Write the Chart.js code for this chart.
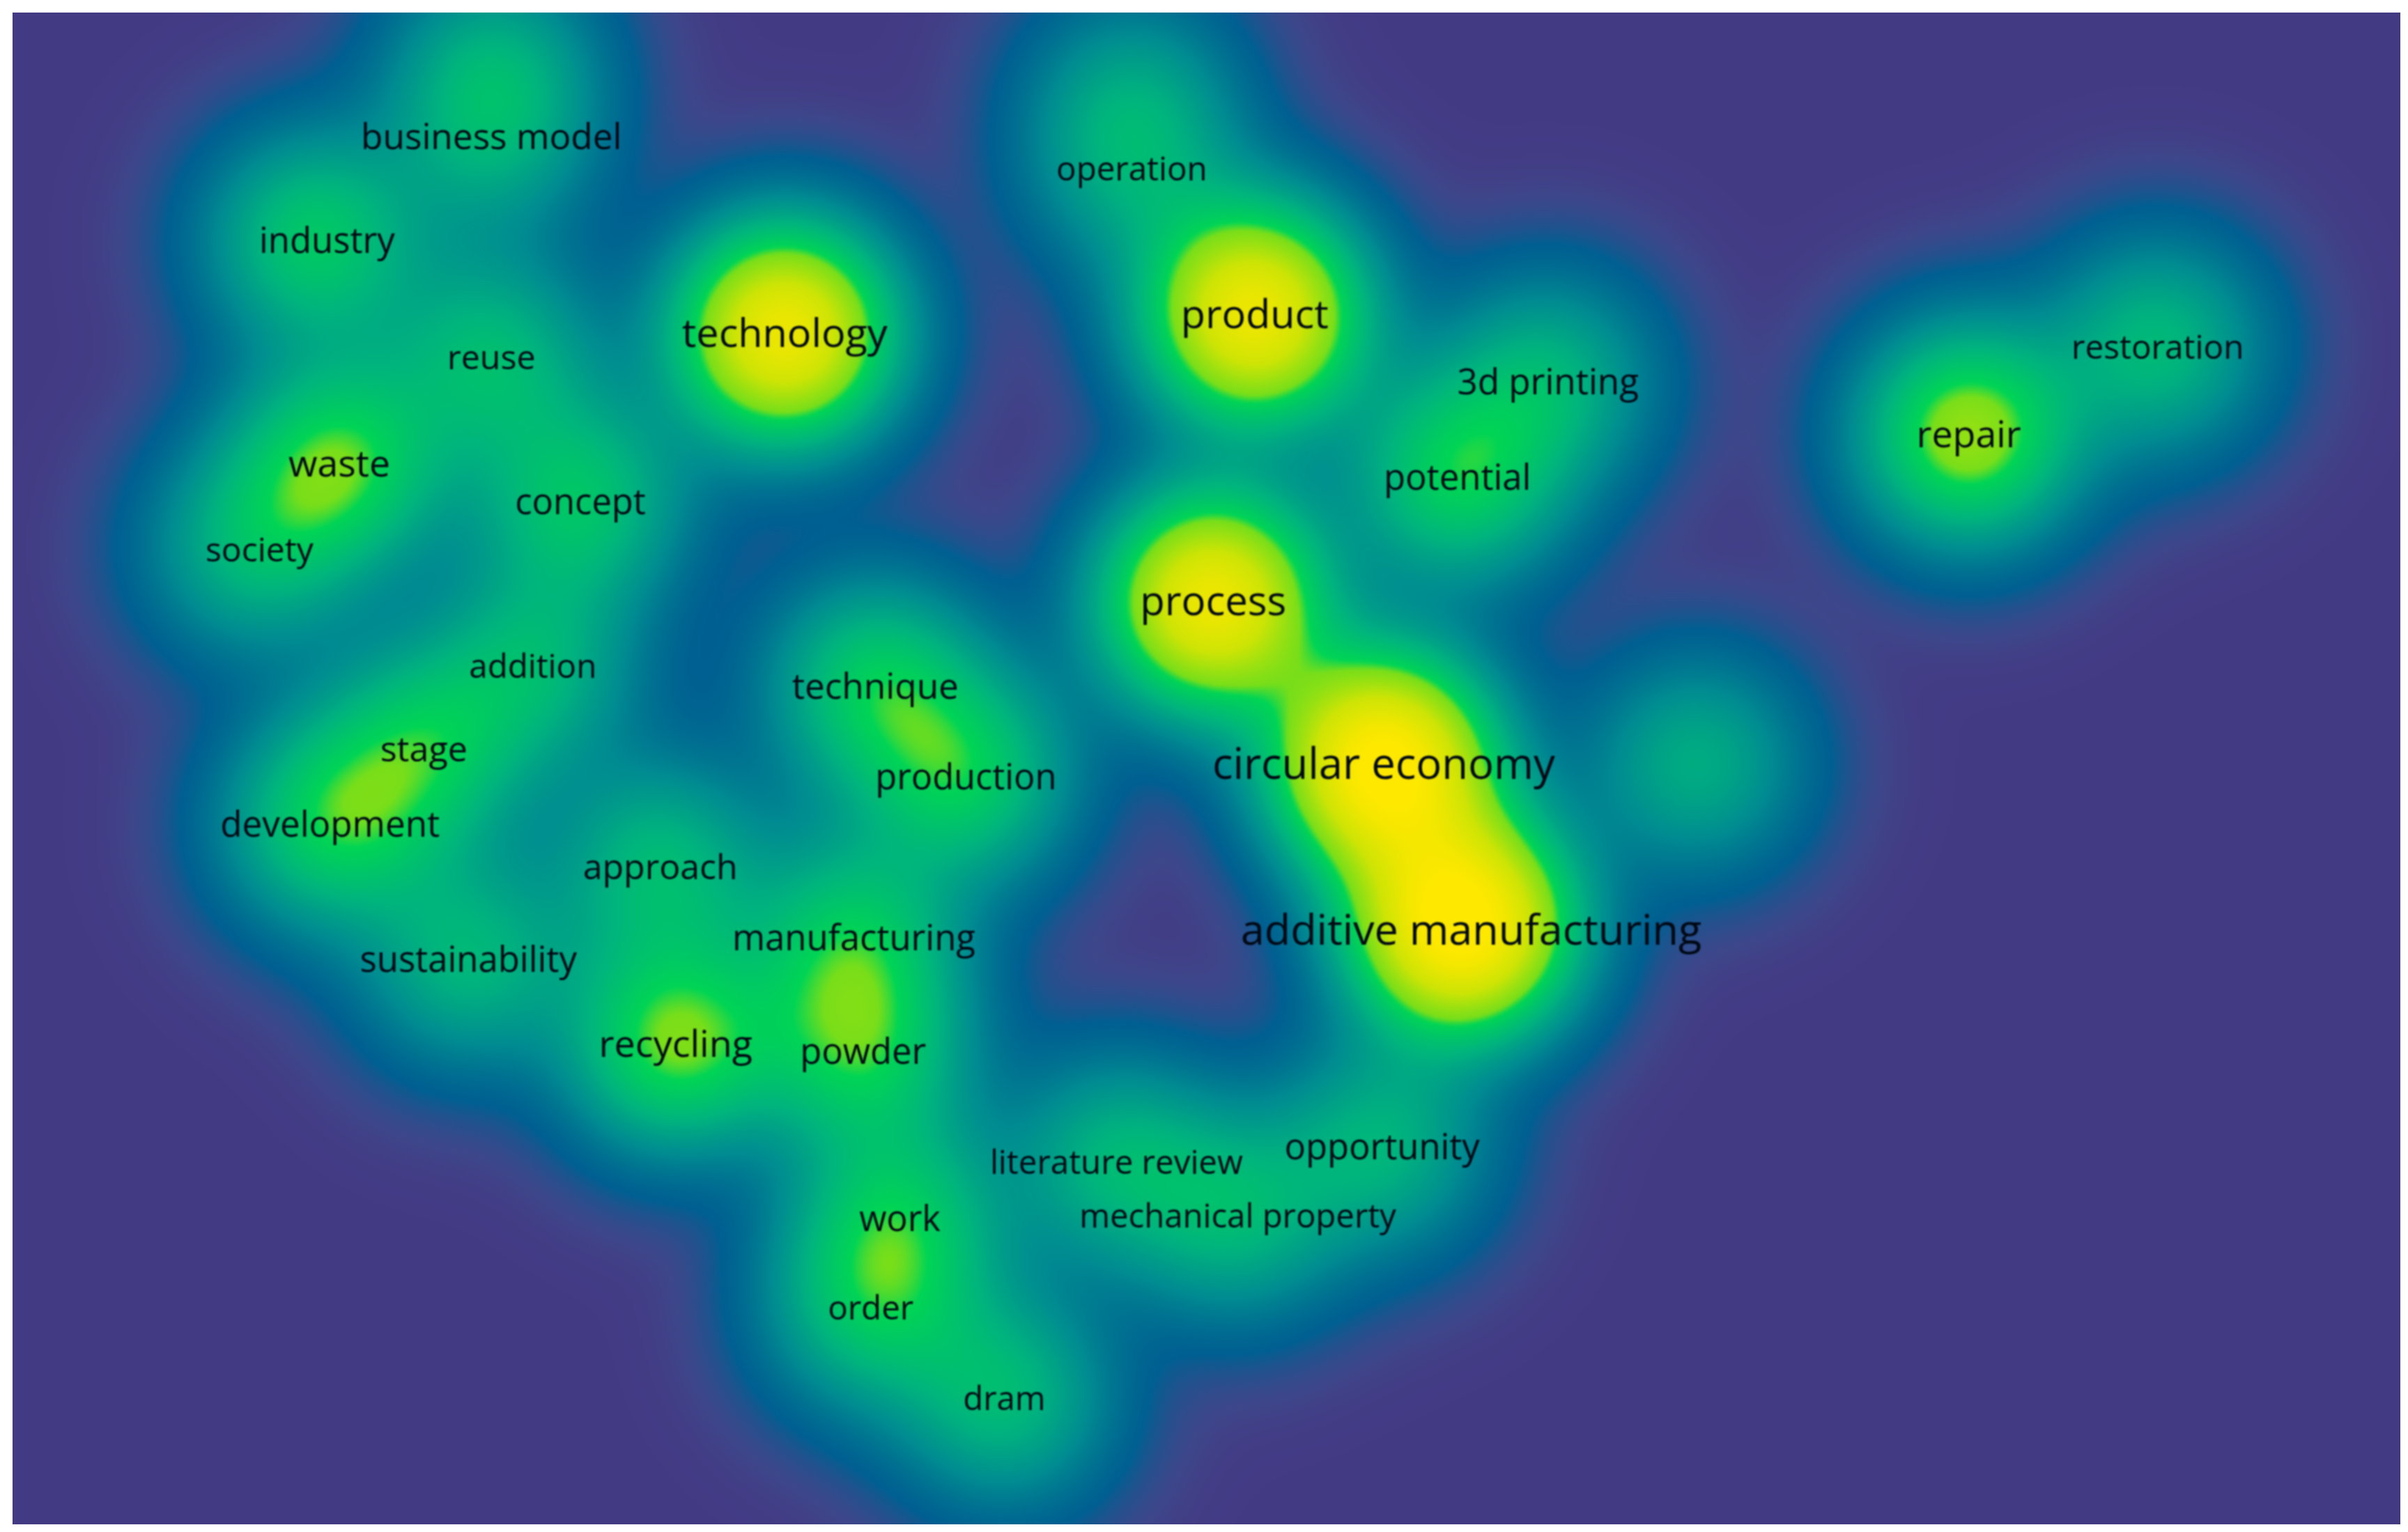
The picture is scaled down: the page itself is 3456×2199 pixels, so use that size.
<!DOCTYPE html>
<html>
<head>
<meta charset="utf-8">
<title>Keyword density map</title>
<script src="https://cdn.jsdelivr.net/npm/chart.js@4/dist/chart.umd.min.js"></script>
<style>
  html, body { margin: 0; padding: 0; background: #fff; }
  canvas { display: block; }
</style>
</head>
<body>
<canvas id="mapa" width="3456" height="2199"></canvas>
<script>
const d = document;

//Keywords (an empty name is a term whose label is hidden in the map)
const keywords = ["business model","industry","reuse","technology","operation","product","3d printing","potential","restoration","repair","waste","society","concept","process","addition","technique","stage","development","production","circular economy","additive manufacturing","approach","manufacturing","sustainability","recycling","powder","literature review","opportunity","mechanical property","work","order","dram","","",""];
const posX = [320,205,320,511,737,817,1008,949,1405,1282,221,165,378,790,347,570,276,215,629,901,952,430,556,305,440,562,727,900,806,586,567,654,322,1105,738];
const posY = [89,157,233,217,110,205,249,311,226,283,302,358,327,392,434,447,488,537,506,498,603,565,611,625,680,685,757,747,792,794,852,911,40,498,62];
const weights = [0.28,0.50,0.40,1.27,0.26,1.27,0.36,0.54,0.40,0.77,0.60,0.36,0.46,1.27,0.36,0.50,0.46,0.52,0.50,1.50,1.55,0.40,0.45,0.38,0.66,0.50,0.36,0.36,0.36,0.42,0.40,0.40,0.26,0.34,0.22];
const occurrences = [52,49,33,91,28,91,51,49,29,67,66,31,48,94,28,52,45,51,47,116,113,44,49,49,68,48,28,48,27,47,28,27,0,0,0];
const labelX = [320,213,320,511,737,817,1008,949,1405,1282,221,169,378,790,347,570,276,215,629,901,958,430,556,305,440,562,727,900,806,586,567,654,0,0,0];
const labelY = [89,157,233,217,110,205,249,311,226,283,302,358,327,392,434,447,488,537,506,498,606,565,611,625,680,685,757,747,792,794,852,911,0,0,0];

//Density colours, from low to high
const colorStops = [0,0.01,0.055,0.2,0.38,0.6,0.68,1.0,1.35,1.5];
const colorR = [67,62,0,0,0,0,120,205,245,255];
const colorG = [58,70,95,140,180,212,222,228,231,232];
const colorB = [132,138,145,145,125,85,25,5,0,0];

const BANDWIDTH = 46, CELL = 4;

const colorAt = (t) => {
  if (t >= 1.5) return [255, 232, 0];
  let i = 0;
  while (colorStops[i + 1] < t) i++;
  const f = (t - colorStops[i]) / (colorStops[i + 1] - colorStops[i]);
  return [
    colorR[i] + (colorR[i + 1] - colorR[i]) * f,
    colorG[i] + (colorG[i + 1] - colorG[i]) * f,
    colorB[i] + (colorB[i + 1] - colorB[i]) * f,
  ];
};

//Density surface, built from the points and the chart scales
const densityPlugin = {
  id: "density",
  beforeDatasetsDraw(chart) {
    const { ctx, chartArea: a, scales } = chart;
    const cols = Math.ceil(a.width / CELL), rows = Math.ceil(a.height / CELL);
    const off = d.createElement("canvas");
    off.width = cols;
    off.height = rows;
    const octx = off.getContext("2d"), img = octx.createImageData(cols, rows);
    const sx = scales.x.getPixelForValue(BANDWIDTH) - scales.x.getPixelForValue(0);
    const sy = Math.abs(scales.y.getPixelForValue(BANDWIDTH) - scales.y.getPixelForValue(0));
    const px = posX.map((v) => scales.x.getPixelForValue(v));
    const py = posY.map((v) => scales.y.getPixelForValue(v));

    for (let r = 0; r < rows; r++) {
      const y = a.top + (r + 0.5) * CELL;
      for (let c = 0; c < cols; c++) {
        const x = a.left + (c + 0.5) * CELL;
        let t = 0;
        for (let i = 0; i < px.length; i++) {
          const dx = (x - px[i]) / sx, dy = (y - py[i]) / sy;
          t += weights[i] * Math.exp(-(dx * dx + dy * dy) / 2);
        }
        const col = colorAt(t), k = (r * cols + c) * 4;
        img.data[k] = col[0];
        img.data[k + 1] = col[1];
        img.data[k + 2] = col[2];
        img.data[k + 3] = 255;
      }
    }
    octx.putImageData(img, 0, 0);
    ctx.save();
    ctx.imageSmoothingEnabled = true;
    ctx.imageSmoothingQuality = "high";
    ctx.drawImage(off, a.left, a.top, a.width, a.height);
    ctx.restore();
  },
  //Keyword labels, bigger for terms with more occurrences
  afterDatasetsDraw(chart) {
    const { ctx, scales } = chart;
    ctx.save();
    ctx.textAlign = "center";
    ctx.textBaseline = "middle";
    ctx.fillStyle = "#000814";
    ctx.filter = "blur(0.8px)";
    keywords.forEach((name, i) => {
      if (!name) return;
      ctx.font = `${43 + 0.16 * occurrences[i]}px "Open Sans"`;
      ctx.fillText(name, scales.x.getPixelForValue(labelX[i]), scales.y.getPixelForValue(labelY[i]) + 3);
    });
    ctx.restore();
  },
};

new Chart(d.getElementById("mapa"), {
  type: "scatter",
  data: {
    datasets: [{
      data: posX.map((x, i) => ({ x, y: posY[i] })),
      pointRadius: 0,
      pointHoverRadius: 0,
    }],
  },
  options: {
    responsive: false,
    animation: false,
    devicePixelRatio: 1,
    layout: { padding: { left: 18, top: 18, right: 11, bottom: 11 } },
    plugins: { legend: { display: false }, tooltip: { enabled: false } },
    scales: {
      x: { type: "linear", display: false, min: 8.2, max: 1563 },
      y: { type: "linear", display: false, reverse: true, min: 8.2, max: 992.8 },
    },
  },
  plugins: [densityPlugin],
});
</script>
</body>
</html>
